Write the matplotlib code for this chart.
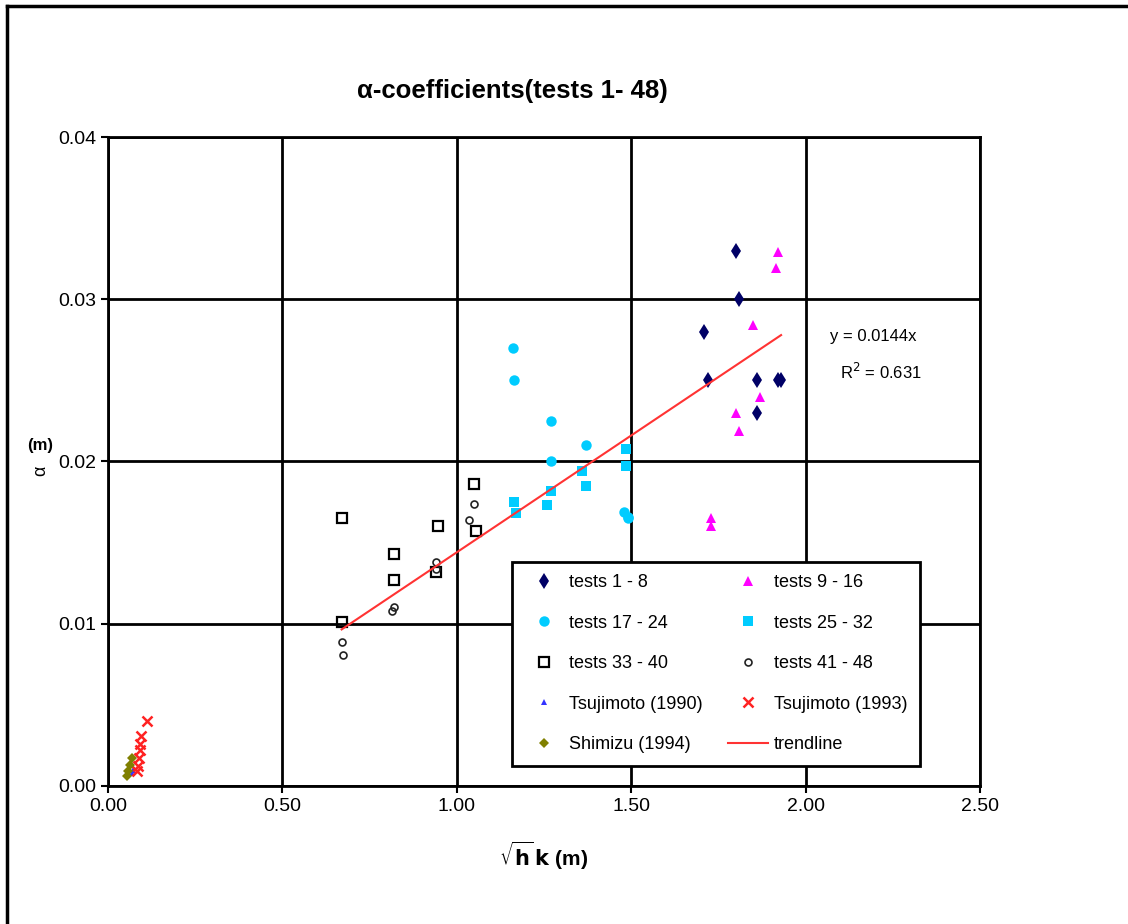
import matplotlib.pyplot as plt
from matplotlib.lines import Line2D

plt.rcParams['font.family'] = ['Liberation Sans', 'DejaVu Sans']

# data (x = sqrt(h)k in m, y = alpha in m)
t1_8_x = [1.80, 1.81, 1.71, 1.72, 1.86, 1.92, 1.93, 1.86]
t1_8_y = [0.0330, 0.0300, 0.0280, 0.0250, 0.0250, 0.0250, 0.0250, 0.0230]

t9_16_x = [1.92, 1.915, 1.85, 1.87, 1.80, 1.81, 1.73, 1.73]
t9_16_y = [0.0329, 0.0319, 0.0284, 0.0240, 0.0230, 0.0219, 0.0165, 0.0160]

t17_24_x = [1.16, 1.165, 1.27, 1.27, 1.37, 1.48, 1.49, 1.49]
t17_24_y = [0.0270, 0.0250, 0.0225, 0.0200, 0.0210, 0.0169, 0.0165, 0.0166]

t25_32_x = [1.163, 1.169, 1.27, 1.26, 1.36, 1.37, 1.485, 1.485]
t25_32_y = [0.0175, 0.0168, 0.0182, 0.0173, 0.0194, 0.0185, 0.0208, 0.0197]

t33_40_x = [0.67, 0.67, 0.82, 0.82, 0.945, 0.94, 1.05, 1.055]
t33_40_y = [0.0165, 0.0101, 0.0143, 0.0127, 0.0160, 0.0132, 0.0186, 0.0157]

t41_48_x = [0.67, 0.675, 0.815, 0.82, 0.94, 0.94, 1.035, 1.05]
t41_48_y = [0.0089, 0.0081, 0.0108, 0.0110, 0.0138, 0.0134, 0.0164, 0.0174]

tsuji90_x = [0.073, 0.070]
tsuji90_y = [0.0010, 0.0008]

tsuji93_x = [0.111, 0.096, 0.092, 0.092, 0.090, 0.087, 0.082]
tsuji93_y = [0.0040, 0.0031, 0.0026, 0.0022, 0.0017, 0.0012, 0.0009]

shimizu_x = [0.068, 0.063, 0.058, 0.054]
shimizu_y = [0.0017, 0.0013, 0.0009, 0.0006]

trend_slope = 0.0144
trend_x = [0.67, 1.93]

fig = plt.figure(figsize=(11.28, 9.24), dpi=100)
ax = fig.add_axes([0.0957, 0.1494, 0.773, 0.7023])

h1, = ax.plot(t1_8_x, t1_8_y, 'd', color='#000066', ms=8, mew=0, label='tests 1 - 8')
h2, = ax.plot(t9_16_x, t9_16_y, '^', color='#ff00ff', ms=7.5, mew=0, label='tests 9 - 16')
h3, = ax.plot(t17_24_x, t17_24_y, 'o', color='#00ccff', ms=7.5, mew=0, label='tests 17 - 24')
h4, = ax.plot(t25_32_x, t25_32_y, 's', color='#00ccff', ms=7, mew=0, label='tests 25 - 32')
h5, = ax.plot(t33_40_x, t33_40_y, 's', mfc='none', mec='black', ms=7.5, mew=1.6, label='tests 33 - 40')
h6, = ax.plot(t41_48_x, t41_48_y, 'o', mfc='none', mec='#222222', ms=5, mew=1.2, label='tests 41 - 48')
h7, = ax.plot(tsuji90_x, tsuji90_y, '^', color='#3333ff', ms=5, mew=0, label='Tsujimoto (1990)')
h8, = ax.plot(tsuji93_x, tsuji93_y, 'x', color='#ff2222', ms=6.5, mew=1.8, label='Tsujimoto (1993)')
h9, = ax.plot(shimizu_x, shimizu_y, 'D', color='#808000', ms=5, mew=0, label='Shimizu (1994)')
trend_y = [trend_slope * v for v in trend_x]
h10, = ax.plot(trend_x, trend_y, '-', color='#ff3333', lw=1.5, label='trendline')

ax.set_xlim(0, 2.5)
ax.set_ylim(0, 0.04)
ax.set_xticks([0, 0.5, 1.0, 1.5, 2.0, 2.5])
ax.set_yticks([0, 0.01, 0.02, 0.03, 0.04])
ax.xaxis.set_major_formatter(plt.FormatStrFormatter('%.2f'))
ax.yaxis.set_major_formatter(plt.FormatStrFormatter('%.2f'))
ax.tick_params(direction='out', length=5, width=1.5, labelsize=14, colors='black')
ax.grid(True, color='black', lw=2)
ax.set_axisbelow(True)
for s in ax.spines.values():
    s.set_linewidth(2)

ax.text(2.07, 0.0277, 'y = 0.0144x', fontsize=12, va='center')
ax.text(2.10, 0.0255, 'R$^2$ = 0.631', fontsize=12, va='center')

fig.text(0.454, 0.902, 'α-coefficients(tests 1- 48)', ha='center', va='center',
         fontsize=18.5, fontweight='bold')
ax.set_xlabel(r'$\mathbf{\sqrt{h}\,k}$ (m)', fontsize=15, fontweight='bold', labelpad=18)
fig.text(0.036, 0.518, '(m)', fontsize=12, fontweight='bold', ha='center', va='center')
fig.text(0.036, 0.490, 'α', fontsize=13, rotation=90, ha='center', va='center')

# legend filled row by row like the original
handles = [h1, h3, h5, h7, h9, h2, h4, h6, h8, h10]
leg = ax.legend(handles=handles, ncol=2, loc='lower left', bbox_to_anchor=(0.463, 0.031, 0.468, 0.32),
                mode='expand', fontsize=13, frameon=True, fancybox=False, framealpha=1,
                edgecolor='black', handlelength=2.2, handletextpad=0.3, labelspacing=1.3,
                borderpad=0.7, borderaxespad=0)
leg.get_frame().set_linewidth(2)

# outer chart frame
fig.add_artist(Line2D([0.006, 0.006], [0.0, 0.994], color='black', lw=2.5, transform=fig.transFigure))
fig.add_artist(Line2D([0.006, 1.0], [0.994, 0.994], color='black', lw=2.5, transform=fig.transFigure))

fig.savefig('out.png', dpi=100)
